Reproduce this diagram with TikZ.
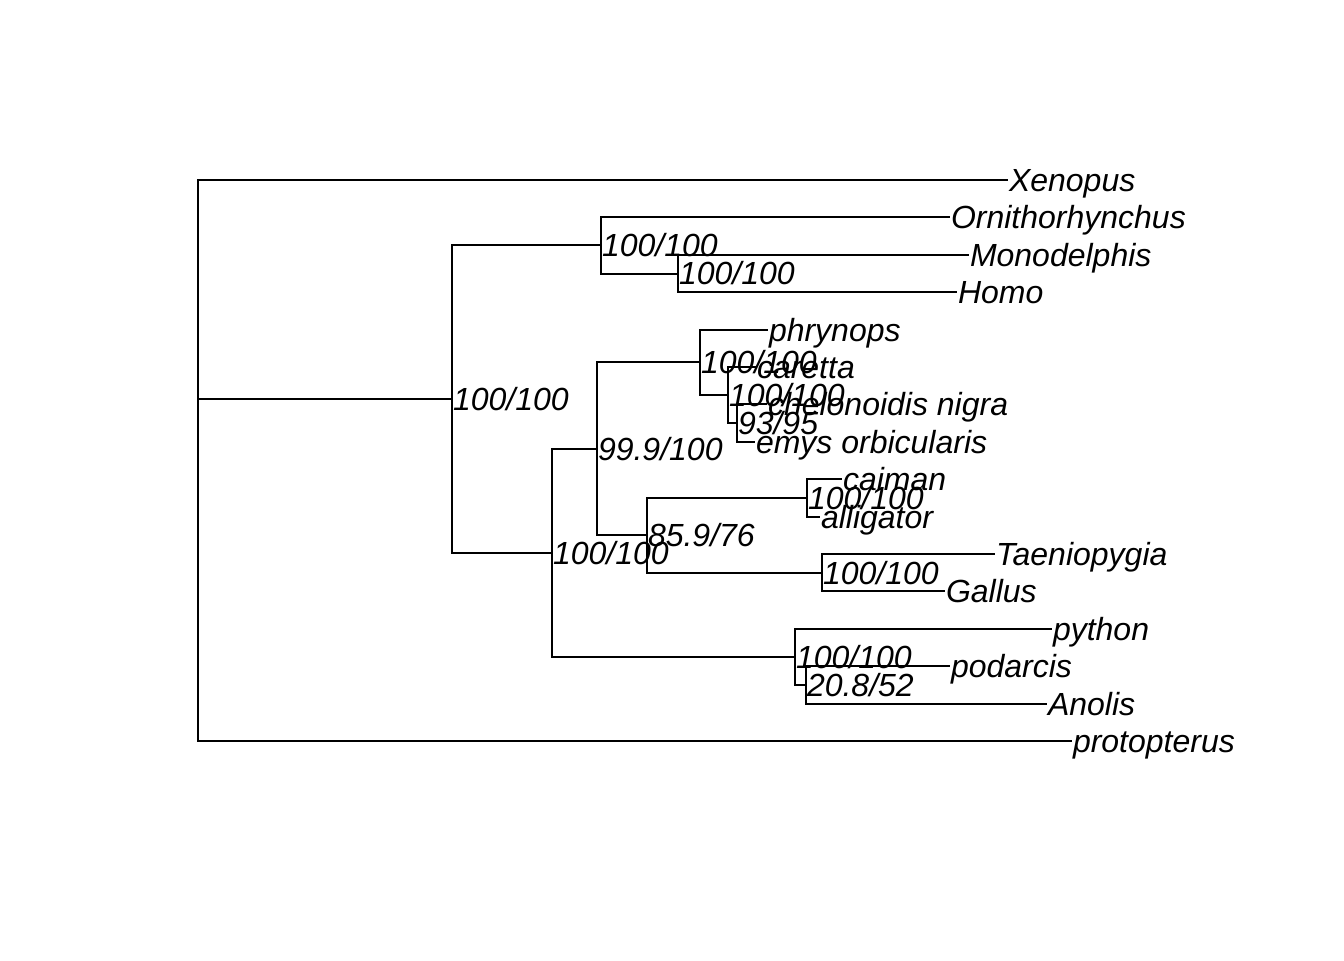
\documentclass[tikz,border=0pt]{standalone}
\usepackage{fontspec}
\setmainfont{Liberation Sans}

\tikzset{every picture/.style={line width=0.75pt}}
\tikzset{
  taxon/.style={anchor=west,inner sep=0pt,text height=8.6pt,text depth=0pt,
    font=\fontsize{12pt}{14pt}\selectfont\itshape},
  support/.style={taxon}
}

\begin{document}
\begin{tikzpicture}[x=0.375pt,y=0.375pt,yscale=-1,xscale=1]
\useasboundingbox (0,0) rectangle (1344,960);

%Tips
\node[taxon] (xen) at (1008,180) {Xenopus};
\node[taxon] (orn) at (950,217.4) {Ornithorhynchus};
\node[taxon] (mon) at (969,254.8) {Monodelphis};
\node[taxon] (hom) at (957,292.2) {Homo};
\node[taxon] (phr) at (768,329.6) {phrynops};
\node[taxon] (car) at (756,367) {caretta};
\node[taxon] (che) at (767,404.4) {chelonoidis nigra};
\node[taxon] (emy) at (755,441.8) {emys orbicularis};
\node[taxon] (cai) at (842,479.2) {caiman};
\node[taxon] (all) at (820,516.6) {alligator};
\node[taxon] (tae) at (995,554) {Taeniopygia};
\node[taxon] (gal) at (945,591.4) {Gallus};
\node[taxon] (pyt) at (1052,628.8) {python};
\node[taxon] (pod) at (950,666.2) {podarcis};
\node[taxon] (ano) at (1047,703.6) {Anolis};
\node[taxon] (pro) at (1072,741) {protopterus};

%Internal nodes
\coordinate (root) at (198,460.5);
\node[support] (amn) at (452,399.1) {100/100};
\node[support] (mam) at (601,245.45) {100/100};
\node[support] (the) at (678,273.5) {100/100};
\node[support] (sau) at (552,552.8) {100/100};
\node[support] (tar) at (597,448.8) {99.9/100};
\node[support] (tes) at (700,362.3) {100/100};
\node[support] (cry) at (728,395.05) {100/100};
\node[support] (tor) at (737,423.1) {93/95};
\node[support] (arc) at (647,535.3) {85.9/76};
\node[support] (cro) at (807,497.9) {100/100};
\node[support] (ave) at (822,572.7) {100/100};
\node[support] (squ) at (795,656.85) {100/100};
\node[support] (lep) at (806,684.9) {20.8/52};

%Branches
\draw (root) |- (xen.west);
\draw (root) |- (amn.west);
\draw (root) |- (pro.west);
\draw (amn.west) |- (mam.west);
\draw (amn.west) |- (sau.west);
\draw (mam.west) |- (orn.west);
\draw (mam.west) |- (the.west);
\draw (the.west) |- (mon.west);
\draw (the.west) |- (hom.west);
\draw (sau.west) |- (tar.west);
\draw (sau.west) |- (squ.west);
\draw (tar.west) |- (tes.west);
\draw (tar.west) |- (arc.west);
\draw (tes.west) |- (phr.west);
\draw (tes.west) |- (cry.west);
\draw (cry.west) |- (car.west);
\draw (cry.west) |- (tor.west);
\draw (tor.west) |- (che.west);
\draw (tor.west) |- (emy.west);
\draw (arc.west) |- (cro.west);
\draw (arc.west) |- (ave.west);
\draw (cro.west) |- (cai.west);
\draw (cro.west) |- (all.west);
\draw (ave.west) |- (tae.west);
\draw (ave.west) |- (gal.west);
\draw (squ.west) |- (pyt.west);
\draw (squ.west) |- (lep.west);
\draw (lep.west) |- (pod.west);
\draw (lep.west) |- (ano.west);
\end{tikzpicture}
\end{document}
